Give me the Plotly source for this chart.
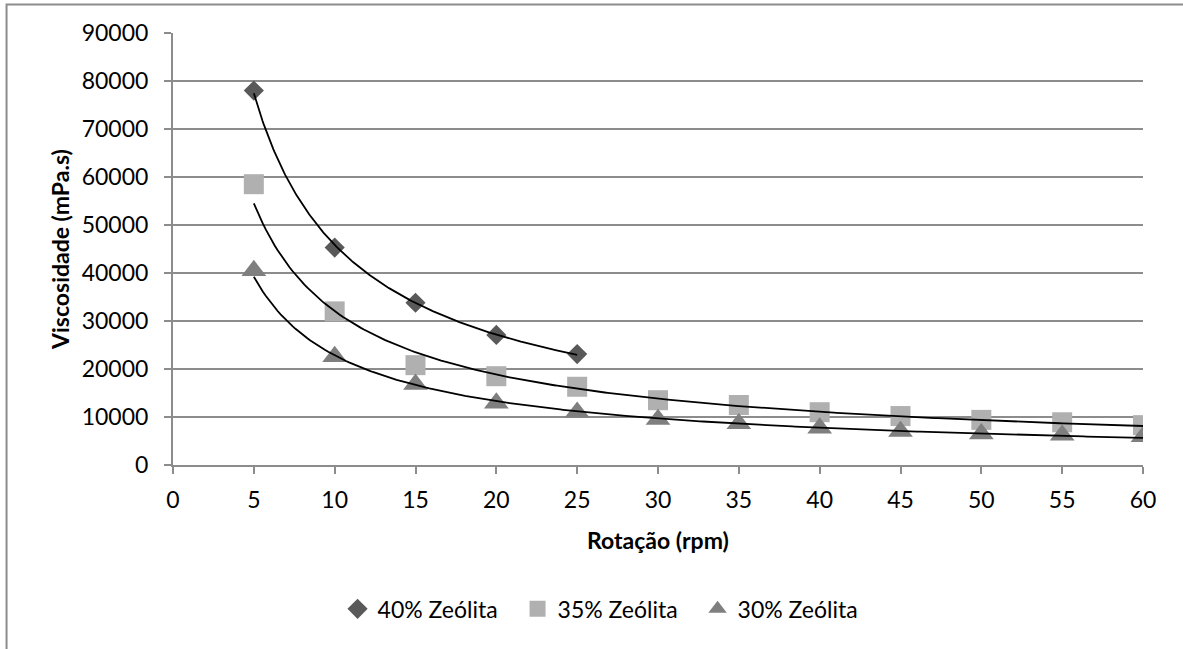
import numpy as np
import plotly.graph_objects as go

# Rotação (rpm)
rot_40 = [5, 10, 15, 20, 25]
rot_35 = [5, 10, 15, 20, 25, 30, 35, 40, 45, 50, 55, 60]
rot_30 = [5, 10, 15, 20, 25, 30, 35, 40, 45, 50, 55, 60]

# Viscosidade (mPa.s)
visc_40 = [78000, 45300, 33800, 27100, 23100]
visc_35 = [58500, 32000, 20800, 18500, 16300, 13500, 12500, 11000, 10200, 9400, 8900, 8300]
visc_30 = [40500, 22600, 16800, 12900, 11000, 9500, 8600, 7700, 7000, 6500, 6200, 5900]

series_names = ["40% Zeólita", "35% Zeólita", "30% Zeólita"]
x_ticks = list(range(0, 61, 5))
y_ticks = list(range(0, 90001, 10000))

GRID = "#8c8c8c"
FONT = "Lato"
FS = 23

fig = go.Figure()

series = [
    (rot_40, visc_40, series_names[0], "diamond", "#595959", 15.5),
    (rot_35, visc_35, series_names[1], "square", "#b0b0b0", 20),
    (rot_30, visc_30, series_names[2], "triangle-up", "#7f7f7f", 21.5),
]

for xs, ys, name, symbol, color, size in series:
    fig.add_trace(go.Scatter(
        x=xs, y=ys, mode="markers", name=name,
        marker=dict(symbol=symbol, color=color, size=size, line=dict(width=0)),
    ))

# power-law trendlines (y = a * x^b) fitted to each series
for xs, ys, _, _, _, _ in series:
    b, ln_a = np.polyfit(np.log(xs), np.log(ys), 1)
    xt = np.linspace(min(xs), max(xs), 300)
    fig.add_trace(go.Scatter(
        x=xt, y=np.exp(ln_a) * xt ** b, mode="lines",
        line=dict(color="black", width=1.8), showlegend=False, hoverinfo="skip",
    ))

fig.update_layout(
    width=1183, height=649,
    margin=dict(l=173, r=40, t=33, b=184),
    paper_bgcolor="white", plot_bgcolor="white",
    font=dict(family=FONT, size=FS, color="black"),
    showlegend=True,
    legend=dict(
        orientation="h", x=0.448, xanchor="center", y=-0.333, yanchor="middle",
        font=dict(family=FONT, size=FS, color="black"),
        itemwidth=30, entrywidth=135, entrywidthmode="pixels",
        traceorder="normal",
    ),
    xaxis=dict(
        range=[0, 60], tickvals=x_ticks, ticktext=[str(v) for v in x_ticks],
        showgrid=False, zeroline=False, showline=True, linecolor=GRID, linewidth=2,
        ticks="outside", ticklen=7, tickcolor=GRID, tickwidth=2,
        ticklabelstandoff=6,
        tickfont=dict(family=FONT, size=FS), fixedrange=True,
    ),
    yaxis=dict(
        range=[0, 90000], tickvals=y_ticks, ticktext=[str(v) for v in y_ticks],
        showgrid=True, gridcolor=GRID, gridwidth=2, zeroline=False,
        showline=True, linecolor=GRID, linewidth=2,
        ticks="outside", ticklen=7, tickcolor=GRID, tickwidth=2,
        ticklabelstandoff=11,
        tickfont=dict(family=FONT, size=FS), fixedrange=True,
    ),
    annotations=[
        dict(text="<b>Rotação (rpm)</b>", xref="paper", yref="paper",
             x=0.5, y=-0.1736, xanchor="center", yanchor="middle",
             showarrow=False, font=dict(family=FONT, size=FS)),
        dict(text="<b>Viscosidade (mPa.s)</b>", xref="paper", yref="paper",
             x=-0.1165, y=0.5, xanchor="center", yanchor="middle", textangle=-90,
             showarrow=False, font=dict(family=FONT, size=FS)),
    ],
    shapes=[
        dict(type="rect", xref="paper", yref="paper",
             x0=-0.1716, x1=1.3, y0=-0.7, y1=1.066,
             line=dict(color=GRID, width=2), fillcolor="rgba(0,0,0,0)", layer="below"),
    ],
)

fig.write_html("out.html")
